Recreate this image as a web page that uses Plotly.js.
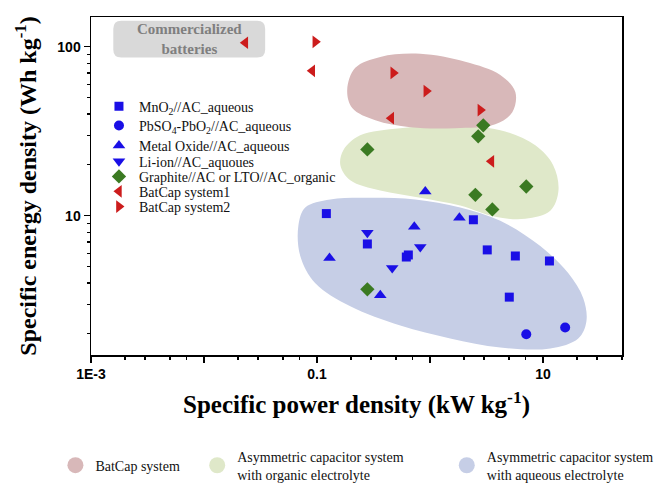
<!DOCTYPE html>
<html><head><meta charset="utf-8">
<script src="https://cdn.plot.ly/plotly-3.0.1.min.js"></script>
<style>html,body{margin:0;padding:0;background:#fff}#chart{width:669px;height:483px}</style>
</head><body><div id="chart"></div>
<script>
// ---- data (kW/kg, Wh/kg) ----
var mno2_x = [0.121, 0.279, 0.617, 0.643, 2.42, 3.21, 5.69, 11.4, 5.03];
var mno2_y = [10.3, 6.81, 5.70, 5.86, 9.47, 6.28, 5.78, 5.40, 3.30];
var pbso4_x = [7.11, 15.7];
var pbso4_y = [1.99, 2.18];
var metal_x = [0.908, 1.82, 0.726, 0.129, 0.363];
var metal_y = [13.9, 9.73, 8.60, 5.62, 3.39];
var liion_x = [0.279, 0.820, 0.463];
var liion_y = [7.92, 6.53, 4.90];
var graph_x = [0.279, 2.96, 2.67, 7.11, 2.52, 3.56, 0.279];
var graph_y = [24.7, 34.3, 29.5, 14.9, 13.3, 10.9, 3.67];
var bat1_x = [0.0232, 0.0908, 0.454, 3.49];
var bat1_y = [105.6, 72.0, 37.8, 21.0];
var bat2_x = [0.0966, 0.473, 0.927, 2.79];
var bat2_y = [107, 70.0, 54.7, 42.2];

// region outlines
var batcapRegion_x = [0.185, 0.218, 0.363, 0.820, 2.05, 4.19, 5.69, 5.35, 3.78, 1.67, 0.670, 0.328, 0.205, 0.185];
var batcapRegion_y = [55.5, 75.0, 87.1, 90.8, 81.5, 68.1, 54.0, 41.0, 34.8, 33.0, 33.4, 36.7, 43.4, 55.5];
var organicRegion_x = [0.171, 0.241, 0.546, 1.51, 4.19, 8.55, 12.3, 13.7, 11.6, 6.97, 3.78, 1.85, 0.820, 0.363, 0.197, 0.161, 0.171];
var organicRegion_y = [24.4, 29.9, 33.0, 33.9, 32.1, 26.1, 19.9, 14.1, 10.7, 9.60, 9.86, 11.5, 12.8, 14.1, 16.2, 19.9, 24.4];
var aqueousRegion_x = [0.0684, 0.0787, 0.131, 0.296, 0.741, 1.85, 4.19, 9.46, 16.7, 22.7, 24.2, 20.5, 11.6, 4.19, 1.51, 0.546, 0.197, 0.0966, 0.0711, 0.0684];
var aqueousRegion_y = [8.72, 11.2, 12.5, 12.8, 12.5, 11.2, 9.34, 6.62, 4.58, 3.25, 2.37, 1.88, 1.64, 1.66, 1.88, 2.24, 2.91, 3.99, 5.78, 8.72];

var seriesNames = ["MnO<sub>2</sub>//AC_aqueous", "PbSO<sub>4</sub>-PbO<sub>2</sub>//AC_aqueous",
  "Metal Oxide//AC_aqueous", "Li-ion//AC_aquoues", "Graphite//AC or LTO//AC_organic",
  "BatCap system1", "BatCap system2"];
var regionNames = ["BatCap system", "Asymmetric capacitor system<br>with organic electrolyte",
  "Asymmetric capacitor system<br>with aqueous electrolyte"];

var xTickVals = [0.001, 0.01, 0.1, 1, 10];
var xTickText = ["1E-3", "", "0.1", "", "10"];
var yTickVals = [10, 100];
var yTickText = ["10", "100"];

// ---- build ----
var pink = "#d8b8b9", green = "#dfe8c9", blue = "#c6cee6";
var BLUE = "#1a0fe6", GREEN = "#3b7a22", RED = "#cc1c1c";
var serif = "Liberation Serif, Times New Roman, serif";
var sans = "Liberation Sans, Arial, sans-serif";

// one legend box per series row so rows can sit as tightly as in the reference
var rowLegends = ["legend", "legend5", "legend6", "legend7", "legend8", "legend9", "legend10"];
var rowY = [0.735, 0.678, 0.619, 0.572, 0.527, 0.483, 0.438];

function region(x, y, color) {
  return {x: x, y: y, mode: "lines", fill: "toself", fillcolor: color,
    line: {width: 0, color: color, shape: "spline", smoothing: 1}, hoverinfo: "skip", showlegend: false};
}
function pts(x, y, i, sym, color, size) {
  return {x: x, y: y, mode: "markers", name: seriesNames[i], type: "scatter", legend: rowLegends[i],
    marker: {symbol: sym, color: color, size: size, line: {width: 0}}};
}
function legendDot(name, color, lg) {
  return {x: [null], y: [null], mode: "markers", name: name, legend: lg, showlegend: true,
    marker: {symbol: "circle", color: color, size: 20}};
}

var traces = [
  region(organicRegion_x, organicRegion_y, green),
  region(aqueousRegion_x, aqueousRegion_y, blue),
  region(batcapRegion_x, batcapRegion_y, pink),
  pts(mno2_x, mno2_y, 0, "square", BLUE, 9),
  pts(pbso4_x, pbso4_y, 1, "circle", BLUE, 10),
  pts(metal_x, metal_y, 2, "triangle-up", BLUE, 11),
  pts(liion_x, liion_y, 3, "triangle-down", BLUE, 11),
  pts(graph_x, graph_y, 4, "diamond", GREEN, 11),
  pts(bat1_x, bat1_y, 5, "triangle-left", RED, 11),
  pts(bat2_x, bat2_y, 6, "triangle-right", RED, 11),
  legendDot(regionNames[0], pink, "legend2"),
  legendDot(regionNames[1], green, "legend3"),
  legendDot(regionNames[2], blue, "legend4")
];

function minorLog(decades, mult) {
  var out = [];
  decades.forEach(function (d) { mult.forEach(function (m) { out.push(m * d); }); });
  return out;
}

var bx0 = 0.042, bx1 = 0.328, by0 = 0.880, by1 = 0.989, rx = 0.015, ry = 0.024;
var boxPath = "M" + (bx0 + rx) + "," + by0 + " L" + (bx1 - rx) + "," + by0 +
  " Q" + bx1 + "," + by0 + " " + bx1 + "," + (by0 + ry) + " L" + bx1 + "," + (by1 - ry) +
  " Q" + bx1 + "," + by1 + " " + (bx1 - rx) + "," + by1 + " L" + (bx0 + rx) + "," + by1 +
  " Q" + bx0 + "," + by1 + " " + bx0 + "," + (by1 - ry) + " L" + bx0 + "," + (by0 + ry) +
  " Q" + bx0 + "," + by0 + " " + (bx0 + rx) + "," + by0 + " Z";

var legendBase = {orientation: "v", bgcolor: "rgba(0,0,0,0)", borderwidth: 0,
  font: {family: serif, size: 14, color: "#111"}, yanchor: "middle", xanchor: "left"};

var layout = {
  width: 669, height: 483,
  margin: {l: 91, r: 47, t: 17, b: 128, autoexpand: false},
  paper_bgcolor: "#fff", plot_bgcolor: "#fff",
  xaxis: {type: "log", range: [-3, Math.log10(50)], showgrid: false, zeroline: false, automargin: false,
    tickmode: "array", tickvals: xTickVals, ticktext: xTickText,
    ticks: "outside", ticklen: 6, tickwidth: 1.3, tickcolor: "#000",
    showline: true, linecolor: "#000", linewidth: 1.5, mirror: true,
    tickfont: {family: sans, size: 14, color: "#000", weight: "bold"},
    minor: {tickmode: "array", tickvals: minorLog([0.001, 0.01, 0.1, 1, 10], [2, 3, 5, 7]),
      ticks: "outside", ticklen: 3, tickwidth: 1.2, tickcolor: "#000", showgrid: false},
    title: {text: "Specific power density (kW kg<sup>-1</sup>)", standoff: 14,
      font: {family: serif, size: 25, color: "#000", weight: "bold"}}},
  yaxis: {type: "log", range: [Math.log10(1.5), Math.log10(150)], showgrid: false, zeroline: false, automargin: false,
    tickmode: "array", tickvals: yTickVals, ticktext: yTickText,
    ticks: "outside", ticklen: 6, tickwidth: 1.3, tickcolor: "#000",
    showline: true, linecolor: "#000", linewidth: 1.5, mirror: true,
    tickfont: {family: sans, size: 14, color: "#000", weight: "bold"},
    minor: {tickmode: "array", tickvals: minorLog([1, 10, 100], [2, 3, 4, 5, 6, 7, 8, 9]),
      ticks: "outside", ticklen: 3, tickwidth: 1.2, tickcolor: "#000", showgrid: false},
    title: {text: "Specific energy density (Wh kg<sup>-1</sup>)", standoff: 14,
      font: {family: serif, size: 24, color: "#000", weight: "bold"}}},
  showlegend: true,
  legend2: Object.assign({}, legendBase, {x: -0.067, y: -0.327}),
  legend3: Object.assign({}, legendBase, {x: 0.200, y: -0.327}),
  legend4: Object.assign({}, legendBase, {x: 0.670, y: -0.327}),
  shapes: [{type: "path", xref: "paper", yref: "paper", path: boxPath,
    fillcolor: "#d9d9d9", line: {width: 0}, layer: "below"}],
  annotations: [{xref: "paper", yref: "paper", x: 0.185, y: 0.936, xanchor: "center", yanchor: "middle",
    showarrow: false, text: "Commercialized<br>batteries", align: "center",
    font: {family: serif, size: 15, color: "#7f7f7f", weight: "bold"}}]
};
rowLegends.forEach(function (lg, i) {
  layout[lg] = Object.assign({}, legendBase, {x: 0.015, y: rowY[i]});
});

Plotly.newPlot("chart", traces, layout, {displayModeBar: false, staticPlot: true});
</script></body></html>
